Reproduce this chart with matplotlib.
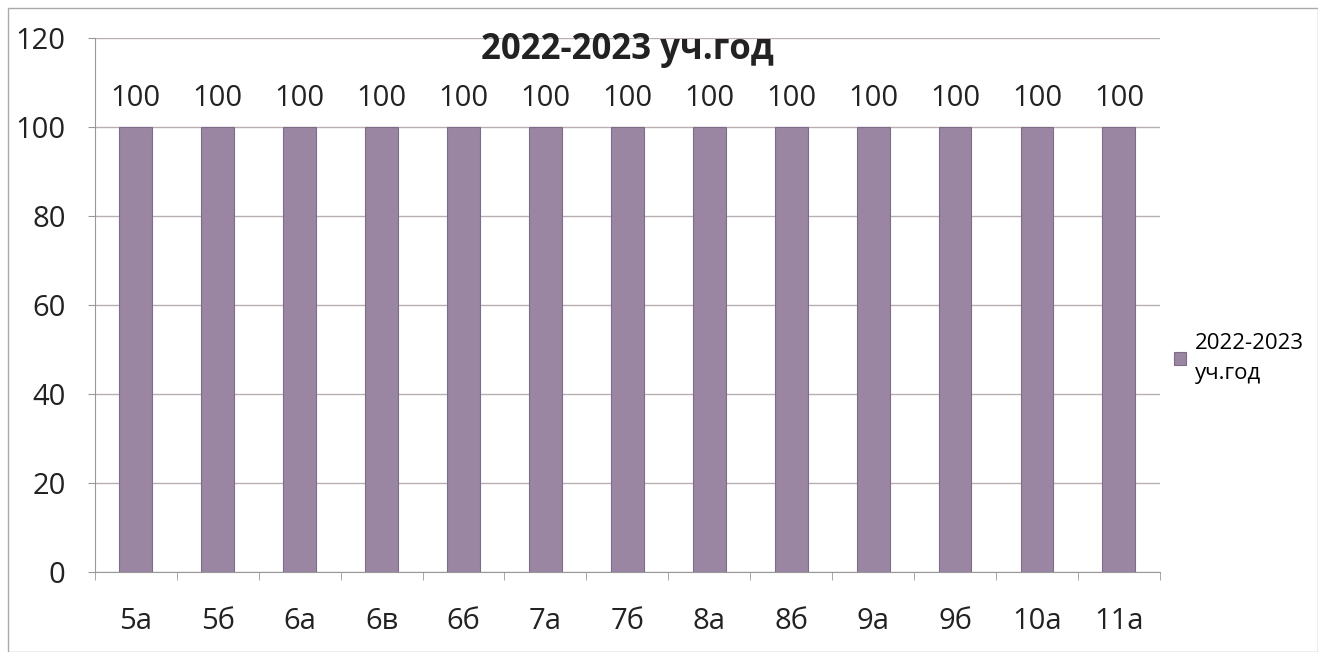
import numpy as np
import matplotlib.pyplot as plt
from matplotlib.patches import Rectangle

classes = ['5а', '5б', '6а', '6в', '6б', '7а', '7б', '8а', '8б', '9а', '9б', '10а', '11а']
values = [100, 100, 100, 100, 100, 100, 100, 100, 100, 100, 100, 100, 100]
series_name = '2022-2023\nуч.год'
title = '2022-2023 уч.год'

plt.rcParams['font.family'] = ['Open Sans', 'DejaVu Sans']

fig = plt.figure(figsize=(13.18, 6.52), dpi=100)
ax = fig.add_axes([0.072, 0.123, 0.808, 0.819])

x = np.arange(len(classes))
bars = ax.bar(x, values, width=0.4, color='#9a86a2', edgecolor='#7d6d88', linewidth=0.8, zorder=3)

for xi, v in zip(x, values):
    ax.text(xi, v + 3, str(v), ha='center', va='bottom', fontsize=21, color='#222222')

ax.set_xlim(-0.5, len(classes) - 0.5)
ax.set_ylim(0, 120)
ax.set_yticks(range(0, 121, 20))
ax.set_xticks(x)
ax.set_xticklabels(classes)
ax.tick_params(axis='y', labelsize=21, length=5, color='#999999', pad=16, labelcolor='#222222')
ax.tick_params(axis='x', labelsize=21, length=0, pad=25, labelcolor='#222222')
ax.set_xticks(np.arange(-0.5, len(classes)), minor=True)
ax.tick_params(axis='x', which='minor', length=6, color='#999999')

ax.grid(axis='y', color='#b8b0b0', linewidth=1.0, zorder=0)
for s in ['top', 'right']:
    ax.spines[s].set_visible(False)
ax.spines['left'].set_color('#999999')
ax.spines['bottom'].set_color('#999999')

ax.text(0.5, 0.978, title, transform=ax.transAxes, ha='center', va='center',
        fontsize=25, fontweight='bold', color='#222222', zorder=5)

leg = fig.legend([bars[0]], [series_name], loc='center left', bbox_to_anchor=(0.879, 0.45),
                 frameon=False, fontsize=16, handlelength=0.55, handleheight=0.55,
                 handletextpad=0.4, borderpad=0.2, alignment='left')
for t in leg.get_texts():
    t.set_linespacing(1.6)

fig.patches.append(Rectangle((0.006, 0.0), 0.994, 0.988, transform=fig.transFigure,
                             fill=False, edgecolor='#aaaaaa', linewidth=1.0))

fig.savefig('out.png', dpi=100)
